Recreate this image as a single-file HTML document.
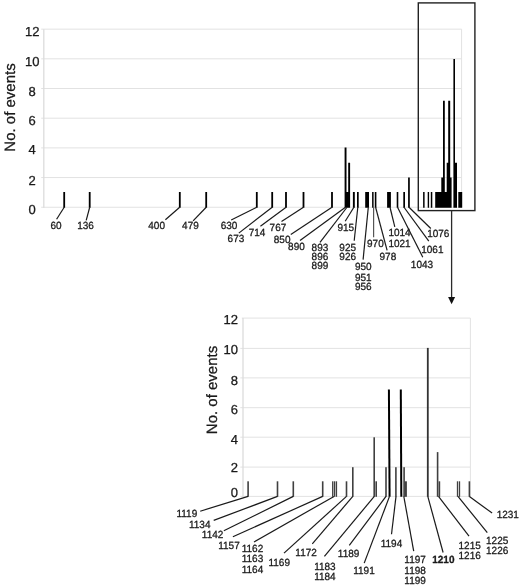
<!DOCTYPE html>
<html><head><meta charset="utf-8"><style>
html,body{margin:0;padding:0;background:#fff;overflow:hidden;}
svg{display:block;font-family:"Liberation Sans", sans-serif;text-rendering:geometricPrecision;will-change:transform;}
text{stroke:#1a1a1a;stroke-width:0.28px;stroke-linejoin:round;}
</style></head><body>
<svg width="520" height="586" viewBox="0 0 520 586">
<rect width="520" height="586" fill="#fff"/>
<line x1="41.2" y1="29.15" x2="461.6" y2="29.15" stroke="#e2e2e2" stroke-width="1.0"/>
<line x1="41.2" y1="58.83" x2="461.6" y2="58.83" stroke="#e2e2e2" stroke-width="1.0"/>
<line x1="41.2" y1="88.52" x2="461.6" y2="88.52" stroke="#e2e2e2" stroke-width="1.0"/>
<line x1="41.2" y1="118.2" x2="461.6" y2="118.2" stroke="#e2e2e2" stroke-width="1.0"/>
<line x1="41.2" y1="147.88" x2="461.6" y2="147.88" stroke="#e2e2e2" stroke-width="1.0"/>
<line x1="41.2" y1="177.57" x2="461.6" y2="177.57" stroke="#e2e2e2" stroke-width="1.0"/>
<line x1="41.2" y1="207.25" x2="461.6" y2="207.25" stroke="#e2e2e2" stroke-width="1.0"/>
<line x1="43.8" y1="29.15" x2="43.8" y2="207.75" stroke="#dcdcdc" stroke-width="1.3"/>
<line x1="461.6" y1="29.15" x2="461.6" y2="207.25" stroke="#e2e2e2" stroke-width="1.0"/>
<text x="32.2" y="35.50" font-size="13" text-anchor="middle" fill="#1a1a1a">12</text>
<text x="32.2" y="65.50" font-size="13" text-anchor="middle" fill="#1a1a1a">10</text>
<text x="32.2" y="95.50" font-size="13" text-anchor="middle" fill="#1a1a1a">8</text>
<text x="32.2" y="125.40" font-size="13" text-anchor="middle" fill="#1a1a1a">6</text>
<text x="32.2" y="154.40" font-size="13" text-anchor="middle" fill="#1a1a1a">4</text>
<text x="32.2" y="184.50" font-size="13" text-anchor="middle" fill="#1a1a1a">2</text>
<text x="32.2" y="213.50" font-size="13" text-anchor="middle" fill="#1a1a1a">0</text>
<text transform="translate(14.6,151.7) rotate(-90)" font-size="15" fill="#1a1a1a">No. of events</text>
<path d="M63.30,207.65 L63.30,191.90 L65.10,191.90 L65.10,207.65 Z M88.80,207.65 L88.80,191.90 L90.60,191.90 L90.60,207.65 Z M178.90,207.65 L178.90,191.90 L180.70,191.90 L180.70,207.65 Z M205.30,207.65 L205.30,191.90 L207.10,191.90 L207.10,207.65 Z M255.90,207.65 L255.90,191.90 L257.70,191.90 L257.70,207.65 Z M271.30,207.65 L271.30,191.90 L273.10,191.90 L273.10,207.65 Z M285.10,207.65 L285.10,191.90 L286.90,191.90 L286.90,207.65 Z M302.60,207.65 L302.60,191.90 L304.40,191.90 L304.40,207.65 Z M331.10,207.65 L331.10,191.90 L332.90,191.90 L332.90,207.65 Z M344.60,207.65 L344.60,147.40 L346.50,147.40 L346.50,191.90 L348.20,191.90 L348.20,162.70 L350.10,162.70 L350.10,207.65 Z M352.90,207.65 L352.90,191.90 L354.80,191.90 L354.80,207.65 Z M357.00,207.65 L357.00,191.90 L358.70,191.90 L358.70,207.65 Z M365.20,207.65 L365.20,191.90 L369.00,191.90 L369.00,207.65 Z M372.10,207.65 L372.10,191.90 L373.60,191.90 L373.60,207.65 Z M374.80,207.65 L374.80,191.90 L376.40,191.90 L376.40,207.65 Z M387.10,207.65 L387.10,191.90 L390.90,191.90 L390.90,207.65 Z M396.70,207.65 L396.70,191.90 L398.30,191.90 L398.30,207.65 Z M403.30,207.65 L403.30,191.90 L405.00,191.90 L405.00,207.65 Z M408.10,207.65 L408.10,177.60 L409.80,177.60 L409.80,207.65 Z M423.10,207.65 L423.10,191.90 L424.60,191.90 L424.60,207.65 Z M427.70,207.65 L427.70,191.90 L429.10,191.90 L429.10,207.65 Z M430.80,207.65 L430.80,191.90 L432.30,191.90 L432.30,207.65 Z M435.20,207.65 L435.20,191.90 L441.30,191.90 L441.30,177.60 L443.00,177.60 L443.00,100.70 L444.80,100.70 L444.80,191.90 L446.70,191.90 L446.70,162.70 L448.20,162.70 L448.20,100.70 L450.20,100.70 L450.20,177.60 L451.60,177.60 L451.60,207.65 Z M453.40,207.65 L453.40,58.90 L455.00,58.90 L455.00,162.70 L457.00,162.70 L457.00,207.65 Z M458.30,207.65 L458.30,191.90 L462.20,191.90 L462.20,207.65 Z" fill="#000"/>
<text transform="translate(50.49,228.96) scale(1,1.04)" font-size="10" fill="#1a1a1a">60</text>
<text transform="translate(77.14,228.96) scale(1,1.04)" font-size="10" fill="#1a1a1a">136</text>
<text transform="translate(148.27,229.16) scale(1,1.04)" font-size="10" fill="#1a1a1a">400</text>
<text transform="translate(182.07,229.16) scale(1,1.04)" font-size="10" fill="#1a1a1a">479</text>
<text transform="translate(220.69,229.16) scale(1,1.04)" font-size="10" fill="#1a1a1a">630</text>
<text transform="translate(227.59,242.26) scale(1,1.04)" font-size="10" fill="#1a1a1a">673</text>
<text transform="translate(248.69,235.66) scale(1,1.04)" font-size="10" fill="#1a1a1a">714</text>
<text transform="translate(269.59,230.96) scale(1,1.04)" font-size="10" fill="#1a1a1a">767</text>
<text transform="translate(273.77,242.56) scale(1,1.04)" font-size="10" fill="#1a1a1a">850</text>
<text transform="translate(288.07,250.46) scale(1,1.04)" font-size="10" fill="#1a1a1a">890</text>
<text transform="translate(311.57,251.36) scale(1,1.04)" font-size="10" fill="#1a1a1a">893</text>
<text transform="translate(311.57,260.06) scale(1,1.04)" font-size="10" fill="#1a1a1a">896</text>
<text transform="translate(311.57,269.06) scale(1,1.04)" font-size="10" fill="#1a1a1a">899</text>
<text transform="translate(337.43,231.16) scale(1,1.04)" font-size="10" fill="#1a1a1a">915</text>
<text transform="translate(339.33,251.36) scale(1,1.04)" font-size="10" fill="#1a1a1a">925</text>
<text transform="translate(339.33,260.06) scale(1,1.04)" font-size="10" fill="#1a1a1a">926</text>
<text transform="translate(354.93,270.06) scale(1,1.04)" font-size="10" fill="#1a1a1a">950</text>
<text transform="translate(354.93,281.16) scale(1,1.04)" font-size="10" fill="#1a1a1a">951</text>
<text transform="translate(354.93,290.26) scale(1,1.04)" font-size="10" fill="#1a1a1a">956</text>
<text transform="translate(367.03,246.56) scale(1,1.04)" font-size="10" fill="#1a1a1a">970</text>
<text transform="translate(379.53,260.06) scale(1,1.04)" font-size="10" fill="#1a1a1a">978</text>
<text transform="translate(388.44,235.96) scale(1,1.04)" font-size="10" fill="#1a1a1a">1014</text>
<text transform="translate(388.44,246.56) scale(1,1.04)" font-size="10" fill="#1a1a1a">1021</text>
<text transform="translate(410.84,268.36) scale(1,1.04)" font-size="10" fill="#1a1a1a">1043</text>
<text transform="translate(421.24,252.56) scale(1,1.04)" font-size="10" fill="#1a1a1a">1061</text>
<text transform="translate(427.14,237.46) scale(1,1.04)" font-size="10" fill="#1a1a1a">1076</text>
<line x1="64.2" y1="207.25" x2="56.6" y2="219.2" stroke="#1a1a1a" stroke-width="1.2"/>
<line x1="89.7" y1="207.25" x2="86.2" y2="220.3" stroke="#1a1a1a" stroke-width="1.2"/>
<line x1="179.7" y1="207.25" x2="165.4" y2="219.7" stroke="#1a1a1a" stroke-width="1.2"/>
<line x1="206.2" y1="207.25" x2="193.1" y2="220.8" stroke="#1a1a1a" stroke-width="1.2"/>
<line x1="256.8" y1="207.25" x2="231.2" y2="220" stroke="#1a1a1a" stroke-width="1.2"/>
<line x1="272.2" y1="207.25" x2="238.8" y2="233.1" stroke="#1a1a1a" stroke-width="1.2"/>
<line x1="286.1" y1="207.25" x2="260.4" y2="226.2" stroke="#1a1a1a" stroke-width="1.2"/>
<line x1="303.5" y1="207.25" x2="281.5" y2="221.5" stroke="#1a1a1a" stroke-width="1.2"/>
<line x1="332" y1="207.25" x2="290.8" y2="234.6" stroke="#1a1a1a" stroke-width="1.2"/>
<line x1="345.5" y1="207.25" x2="300" y2="240.4" stroke="#1a1a1a" stroke-width="1.2"/>
<line x1="347" y1="207.25" x2="320" y2="242.3" stroke="#1a1a1a" stroke-width="1.2"/>
<line x1="353.9" y1="207.25" x2="345.2" y2="221.2" stroke="#1a1a1a" stroke-width="1.2"/>
<line x1="357.8" y1="207.25" x2="354.2" y2="240.8" stroke="#1a1a1a" stroke-width="1.2"/>
<line x1="368.3" y1="207.25" x2="363.1" y2="259.6" stroke="#1a1a1a" stroke-width="1.2"/>
<line x1="375.6" y1="207.25" x2="387.1" y2="250.4" stroke="#1a1a1a" stroke-width="1.2"/>
<line x1="390" y1="207.25" x2="394.8" y2="226.9" stroke="#1a1a1a" stroke-width="1.2"/>
<line x1="397.5" y1="207.25" x2="422.8" y2="257.2" stroke="#1a1a1a" stroke-width="1.2"/>
<line x1="404" y1="207.25" x2="428.8" y2="241.2" stroke="#1a1a1a" stroke-width="1.2"/>
<line x1="409" y1="207.25" x2="430.8" y2="228.5" stroke="#1a1a1a" stroke-width="1.2"/>
<line x1="373.6" y1="207.25" x2="373.6" y2="237.2" stroke="#555" stroke-width="1.2"/>
<rect x="418.3" y="2.9" width="56.6" height="207.7" fill="none" stroke="#222" stroke-width="1.4"/>
<line x1="451.6" y1="210.4" x2="451.6" y2="298" stroke="#2a2a2a" stroke-width="1.3"/>
<polygon points="448.1,296.9 455.1,296.9 451.6,304.3" fill="#111"/>
<line x1="241.8" y1="318.1" x2="470.4" y2="318.1" stroke="#e2e2e2" stroke-width="1.0"/>
<line x1="240.3" y1="348.4" x2="470.4" y2="348.4" stroke="#e2e2e2" stroke-width="1.0"/>
<line x1="240.3" y1="377.9" x2="470.4" y2="377.9" stroke="#e2e2e2" stroke-width="1.0"/>
<line x1="240.3" y1="407.7" x2="470.4" y2="407.7" stroke="#e2e2e2" stroke-width="1.0"/>
<line x1="240.3" y1="437.2" x2="470.4" y2="437.2" stroke="#e2e2e2" stroke-width="1.0"/>
<line x1="240.3" y1="467.1" x2="470.4" y2="467.1" stroke="#e2e2e2" stroke-width="1.0"/>
<line x1="240.3" y1="496.4" x2="470.4" y2="496.4" stroke="#e2e2e2" stroke-width="1.0"/>
<line x1="243.0" y1="318.1" x2="243.0" y2="496.9" stroke="#dcdcdc" stroke-width="1.3"/>
<line x1="470.4" y1="318.1" x2="470.4" y2="496.4" stroke="#e2e2e2" stroke-width="1.0"/>
<text x="238.0" y="324.10" font-size="13" text-anchor="end" fill="#1a1a1a">12</text>
<text x="238.0" y="354.10" font-size="13" text-anchor="end" fill="#1a1a1a">10</text>
<text x="238.0" y="384.60" font-size="13" text-anchor="end" fill="#1a1a1a">8</text>
<text x="238.0" y="413.70" font-size="13" text-anchor="end" fill="#1a1a1a">6</text>
<text x="238.0" y="444.10" font-size="13" text-anchor="end" fill="#1a1a1a">4</text>
<text x="238.0" y="471.60" font-size="13" text-anchor="end" fill="#1a1a1a">2</text>
<text x="238.0" y="497.30" font-size="13" text-anchor="end" fill="#1a1a1a">0</text>
<text transform="translate(216.8,434.2) rotate(-90)" font-size="15" fill="#1a1a1a">No. of events</text>
<rect x="247.30" y="481.30" width="1.60" height="15.50" fill="#404040"/>
<rect x="276.70" y="481.30" width="1.60" height="15.50" fill="#404040"/>
<rect x="292.50" y="481.30" width="1.60" height="15.50" fill="#404040"/>
<rect x="321.90" y="481.30" width="1.60" height="15.50" fill="#404040"/>
<rect x="345.70" y="481.30" width="1.60" height="15.50" fill="#404040"/>
<rect x="352.00" y="467.20" width="1.60" height="29.60" fill="#404040"/>
<rect x="373.40" y="437.30" width="1.60" height="59.50" fill="#404040"/>
<rect x="375.40" y="481.30" width="1.60" height="15.50" fill="#404040"/>
<rect x="385.20" y="467.20" width="1.60" height="29.60" fill="#404040"/>
<rect x="395.10" y="467.20" width="1.60" height="29.60" fill="#404040"/>
<rect x="403.30" y="467.20" width="1.60" height="29.60" fill="#404040"/>
<rect x="436.80" y="452.10" width="1.60" height="44.70" fill="#404040"/>
<rect x="438.60" y="481.30" width="1.60" height="15.50" fill="#404040"/>
<rect x="468.60" y="481.30" width="1.60" height="15.50" fill="#404040"/>
<rect x="404.50" y="481.30" width="2.40" height="15.50" fill="#404040"/>
<rect x="456.85" y="481.30" width="1.30" height="15.50" fill="#404040"/>
<rect x="458.85" y="481.30" width="1.30" height="15.50" fill="#404040"/>
<rect x="332.05" y="481.30" width="1.30" height="15.50" fill="#404040"/>
<rect x="333.85" y="481.30" width="1.30" height="15.50" fill="#404040"/>
<rect x="335.70" y="481.30" width="1.40" height="15.50" fill="#404040"/>
<rect x="426.90" y="347.90" width="1.80" height="148.90" fill="#333"/>
<polygon points="387.90,389.60 389.90,389.60 390.60,496.80 388.60,496.80" fill="#000"/>
<polygon points="399.80,389.60 401.80,389.60 402.30,496.80 400.30,496.80" fill="#000"/>
<text transform="translate(176.44,517.36) scale(1,1.04)" font-size="10" fill="#1a1a1a">1119</text>
<text transform="translate(188.94,528.36) scale(1,1.04)" font-size="10" fill="#1a1a1a">1134</text>
<text transform="translate(201.84,538.46) scale(1,1.04)" font-size="10" fill="#1a1a1a">1142</text>
<text transform="translate(218.24,548.66) scale(1,1.04)" font-size="10" fill="#1a1a1a">1157</text>
<text transform="translate(241.74,552.06) scale(1,1.04)" font-size="10" fill="#1a1a1a">1162</text>
<text transform="translate(241.74,562.36) scale(1,1.04)" font-size="10" fill="#1a1a1a">1163</text>
<text transform="translate(241.74,572.96) scale(1,1.04)" font-size="10" fill="#1a1a1a">1164</text>
<text transform="translate(268.44,566.36) scale(1,1.04)" font-size="10" fill="#1a1a1a">1169</text>
<text transform="translate(295.34,556.36) scale(1,1.04)" font-size="10" fill="#1a1a1a">1172</text>
<text transform="translate(314.14,570.26) scale(1,1.04)" font-size="10" fill="#1a1a1a">1183</text>
<text transform="translate(314.14,580.26) scale(1,1.04)" font-size="10" fill="#1a1a1a">1184</text>
<text transform="translate(337.84,557.16) scale(1,1.04)" font-size="10" fill="#1a1a1a">1189</text>
<text transform="translate(353.24,573.66) scale(1,1.04)" font-size="10" fill="#1a1a1a">1191</text>
<text transform="translate(380.74,546.76) scale(1,1.04)" font-size="10" fill="#1a1a1a">1194</text>
<text transform="translate(404.34,563.46) scale(1,1.04)" font-size="10" fill="#1a1a1a">1197</text>
<text transform="translate(404.34,573.66) scale(1,1.04)" font-size="10" fill="#1a1a1a">1198</text>
<text transform="translate(404.34,583.66) scale(1,1.04)" font-size="10" fill="#1a1a1a">1199</text>
<text transform="translate(458.54,548.66) scale(1,1.04)" font-size="10" fill="#1a1a1a">1215</text>
<text transform="translate(458.54,558.66) scale(1,1.04)" font-size="10" fill="#1a1a1a">1216</text>
<text transform="translate(486.04,543.86) scale(1,1.04)" font-size="10" fill="#1a1a1a">1225</text>
<text transform="translate(486.04,554.46) scale(1,1.04)" font-size="10" fill="#1a1a1a">1226</text>
<text transform="translate(496.64,517.96) scale(1,1.04)" font-size="10" fill="#1a1a1a">1231</text>
<text transform="translate(432.24,563.16) scale(1,1.04)" font-size="10" font-weight="bold" fill="#1a1a1a">1210</text>
<line x1="248.1" y1="496.4" x2="200.2" y2="511.2" stroke="#1a1a1a" stroke-width="1.2"/>
<line x1="277.5" y1="496.4" x2="213.7" y2="520.4" stroke="#1a1a1a" stroke-width="1.2"/>
<line x1="293.3" y1="496.4" x2="223.8" y2="530.8" stroke="#1a1a1a" stroke-width="1.2"/>
<line x1="322.7" y1="496.4" x2="232.9" y2="536.7" stroke="#1a1a1a" stroke-width="1.2"/>
<line x1="334" y1="496.4" x2="254" y2="542" stroke="#1a1a1a" stroke-width="1.2"/>
<line x1="346.5" y1="496.4" x2="284" y2="553.1" stroke="#1a1a1a" stroke-width="1.2"/>
<line x1="352.8" y1="496.4" x2="312.3" y2="543.8" stroke="#1a1a1a" stroke-width="1.2"/>
<line x1="374.3" y1="496.4" x2="324.4" y2="556.3" stroke="#1a1a1a" stroke-width="1.2"/>
<line x1="386" y1="496.4" x2="349.3" y2="545.4" stroke="#1a1a1a" stroke-width="1.2"/>
<line x1="389.5" y1="496.4" x2="364.2" y2="563.1" stroke="#1a1a1a" stroke-width="1.2"/>
<line x1="396" y1="496.4" x2="391.5" y2="534.2" stroke="#1a1a1a" stroke-width="1.2"/>
<line x1="403.8" y1="496.4" x2="413.7" y2="551.2" stroke="#1a1a1a" stroke-width="1.2"/>
<line x1="427.8" y1="496.4" x2="443.1" y2="552.5" stroke="#1a1a1a" stroke-width="1.2"/>
<line x1="438.5" y1="496.4" x2="469" y2="536.2" stroke="#1a1a1a" stroke-width="1.2"/>
<line x1="458" y1="496.4" x2="487.3" y2="532.7" stroke="#1a1a1a" stroke-width="1.2"/>
<line x1="469.4" y1="496.4" x2="492.1" y2="513.1" stroke="#1a1a1a" stroke-width="1.2"/>
</svg></body></html>
